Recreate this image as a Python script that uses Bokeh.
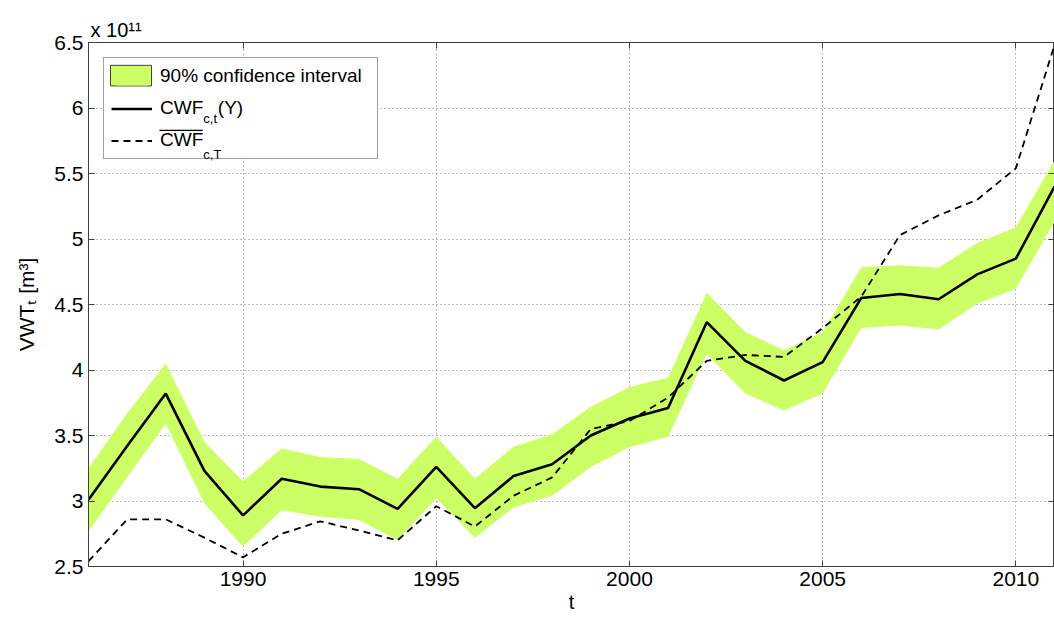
from bokeh.plotting import figure
from bokeh.core.properties import value
from bokeh.models import (FixedTicker, CustomJSTickFormatter, LinearAxis,
                          Legend, LegendItem, Range1d)
from bokeh.embed import file_html
from bokeh.resources import INLINE

# ---------------- data (values in units of 1e11 m^3) ----------------
years = [1986, 1987, 1988, 1989, 1990, 1991, 1992, 1993, 1994, 1995, 1996, 1997, 1998,
         1999, 2000, 2001, 2002, 2003, 2004, 2005, 2006, 2007, 2008, 2009, 2010, 2011]
cwf = [3.01, 3.42, 3.82, 3.23, 2.89, 3.17, 3.11, 3.09, 2.94, 3.26, 2.945, 3.19, 3.28,
       3.50, 3.63, 3.71, 4.365, 4.07, 3.92, 4.06, 4.55, 4.58, 4.54, 4.73, 4.85, 5.40]
ci_upper = [3.25, 3.67, 4.05, 3.45, 3.15, 3.40, 3.335, 3.32, 3.17, 3.49, 3.17, 3.415, 3.51,
            3.72, 3.87, 3.94, 4.59, 4.29, 4.15, 4.29, 4.785, 4.80, 4.78, 4.97, 5.09, 5.60]
ci_lower = [2.77, 3.18, 3.59, 2.98, 2.65, 2.93, 2.88, 2.855, 2.70, 3.02, 2.72, 2.95, 3.04,
            3.26, 3.41, 3.49, 4.12, 3.82, 3.69, 3.82, 4.32, 4.34, 4.31, 4.505, 4.62, 5.13]
cwf_mean = [2.54, 2.86, 2.86, 2.72, 2.57, 2.75, 2.845, 2.775, 2.70, 2.96, 2.805, 3.04, 3.18,
            3.55, 3.61, 3.79, 4.07, 4.115, 4.10, 4.32, 4.56, 5.03, 5.18, 5.30, 5.54, 6.48]

x_ticks = [1990, 1995, 2000, 2005, 2010]
x_tick_labels = ["1990", "1995", "2000", "2005", "2010"]
y_ticks = [2.5, 3, 3.5, 4, 4.5, 5, 5.5, 6, 6.5]
y_tick_labels = ["2.5", "3", "3.5", "4", "4.5", "5", "5.5", "6", "6.5"]
legend_labels = ["90% confidence interval", "CWF", "CWF"]
legend_subscripts = ["c,t", "c,T"]
x_label = "t"
y_label = "VWTₜ [m³]"
scale_note = "x 10¹¹"

FONT = "Liberation Sans"
GREEN = "#CCFF66"
FRAME = "#404040"

X0, X1, Y0, Y1 = 1986, 2011, 2.5, 6.5
W, H = 1054, 621
FL, FT, FR, FB = 88, 42, 1054, 566   # frame edges in canvas px

p = figure(width=W, height=H, x_range=Range1d(X0, X1), y_range=Range1d(Y0, Y1),
           output_backend="svg", toolbar_location=None,
           min_border_left=FL, min_border_right=W - FR, min_border_top=FT,
           min_border_bottom=H - FB)
p.background_fill_color = "white"
p.border_fill_color = "white"
p.outline_line_color = FRAME
p.outline_line_width = 1

# title used for the scale note "x 10^11"
p.title.text = scale_note
p.title.align = "left"
p.title.offset = 2
p.title.standoff = 4
p.title.text_font = FONT
p.title.text_font_size = "20px"
p.title.text_font_style = "normal"
p.title.text_color = "black"

# helpers: canvas pixel position -> data position (legend decoration placement only)
def DX(px):
    return X0 + (px - FL) / (FR - FL) * (X1 - X0)

def DY(py):
    return Y1 - (py - FT) / (FB - FT) * (Y1 - Y0)

def fmt(vals, labs):
    return CustomJSTickFormatter(args=dict(vals=vals, labs=labs), code="""
        const i = vals.findIndex(v => Math.abs(v - tick) < 1e-9);
        return i >= 0 ? labs[i] : '';
    """)

blank = CustomJSTickFormatter(code="return '';")

for ax, ticks, labs in [(p.xaxis[0], x_ticks, x_tick_labels), (p.yaxis[0], y_ticks, y_tick_labels)]:
    ax.ticker = FixedTicker(ticks=ticks)
    ax.formatter = fmt(ticks, labs)
    ax.major_tick_in = 6
    ax.major_tick_out = 0
    ax.minor_tick_line_color = None
    ax.axis_line_color = FRAME
    ax.major_tick_line_color = FRAME
    ax.major_label_text_font = FONT
    ax.major_label_text_font_size = "21px"
    ax.major_label_text_color = "black"
    ax.major_label_standoff = 5
    ax.axis_label_text_font = FONT
    ax.axis_label_text_font_style = "normal"
    ax.axis_label_text_color = "black"

p.xaxis[0].axis_label = x_label
p.xaxis[0].axis_label_standoff = 2
p.xaxis[0].axis_label_text_font_size = "20px"
p.yaxis[0].axis_label = y_label
p.yaxis[0].axis_label_standoff = 13
p.yaxis[0].axis_label_text_font_size = "21px"

top_ax = LinearAxis(ticker=FixedTicker(ticks=x_ticks), formatter=blank, major_tick_in=6,
                    major_tick_out=0, minor_tick_line_color=None, axis_line_color=FRAME,
                    major_tick_line_color=FRAME, major_label_standoff=0,
                    major_label_text_font_size="0px")
right_ax = LinearAxis(ticker=FixedTicker(ticks=y_ticks), formatter=blank, major_tick_in=6,
                      major_tick_out=0, minor_tick_line_color=None, axis_line_color=FRAME,
                      major_tick_line_color=FRAME, major_label_standoff=0,
                      major_label_text_font_size="0px")
p.add_layout(top_ax, "above")
p.add_layout(right_ax, "right")

p.xgrid.ticker = FixedTicker(ticks=x_ticks)
p.ygrid.ticker = FixedTicker(ticks=y_ticks)
for g in (p.xgrid[0], p.ygrid[0]):
    g.grid_line_color = "#7a7a7a"
    g.grid_line_dash = "1 3"
    g.grid_line_width = 1

# legend geometry (px)
MARGIN, PAD, SPACE, GW, GH, STANDOFF, LW = 15, 7, 10, 41, 21, 8, 210
ROW_H = 22.3
box_l, box_t, box_r, box_b = FL + MARGIN, FT + MARGIN, 377, 158
r1 = box_t + PAD + ROW_H / 2
r2 = r1 + ROW_H + SPACE
r3 = r2 + ROW_H + SPACE
glyph_l = FL + MARGIN + PAD
label_x = glyph_l + GW + STANDOFF
cwf_w = 43.3

# white legend background (drawn as glyph so that sub/overline text sits on top of it)
p.quad(left=[DX(box_l)], right=[DX(box_r)], top=[DY(box_t)], bottom=[DY(box_b)],
       fill_color="white", line_color=None)
# full-size legend patch with outline
p.quad(left=[DX(glyph_l)], right=[DX(glyph_l + GW)], top=[DY(r1 - 10.3)], bottom=[DY(r1 + 10.3)],
       fill_color=GREEN, line_color=FRAME, line_width=1)

band = p.varea(x=years, y1=ci_lower, y2=ci_upper, fill_color=GREEN)
solid = p.line(years, cwf, line_color="black", line_width=2.6)
dashed = p.line(years, cwf_mean, line_color="black", line_width=1.8, line_dash="7 5")

# legend subscripts, "(Y)" and overline
p.text(x=[DX(label_x + cwf_w + 0.5), DX(label_x + cwf_w + 0.5)],
       y=[DY(r2 + 11), DY(r3 + 14)], text=legend_subscripts,
       text_font=value(FONT), text_font_size="13px", text_color="black",
       text_baseline="alphabetic", text_align="left")
p.text(x=[DX(label_x + cwf_w + 15)], y=[DY(r2)], text=["(Y)"],
       text_font=value(FONT), text_font_size="19px", text_color="black",
       text_baseline="middle", text_align="left")
p.segment(x0=[DX(label_x)], x1=[DX(label_x + cwf_w)], y0=[DY(r3 - 9.8)], y1=[DY(r3 - 9.8)],
          line_color="black", line_width=1.2)

legend = Legend(items=[LegendItem(label=legend_labels[0], renderers=[band]),
                       LegendItem(label=legend_labels[1], renderers=[solid]),
                       LegendItem(label=legend_labels[2], renderers=[dashed])],
                location="top_left", margin=MARGIN, padding=PAD, spacing=SPACE,
                glyph_width=GW, glyph_height=GH, label_height=GH, label_width=LW,
                label_standoff=STANDOFF,
                label_text_font=FONT, label_text_font_size="19px", label_text_color="black",
                border_line_color=FRAME, border_line_width=1,
                background_fill_alpha=0)
p.add_layout(legend)

open("out.html", "w").write(file_html(p, INLINE))
